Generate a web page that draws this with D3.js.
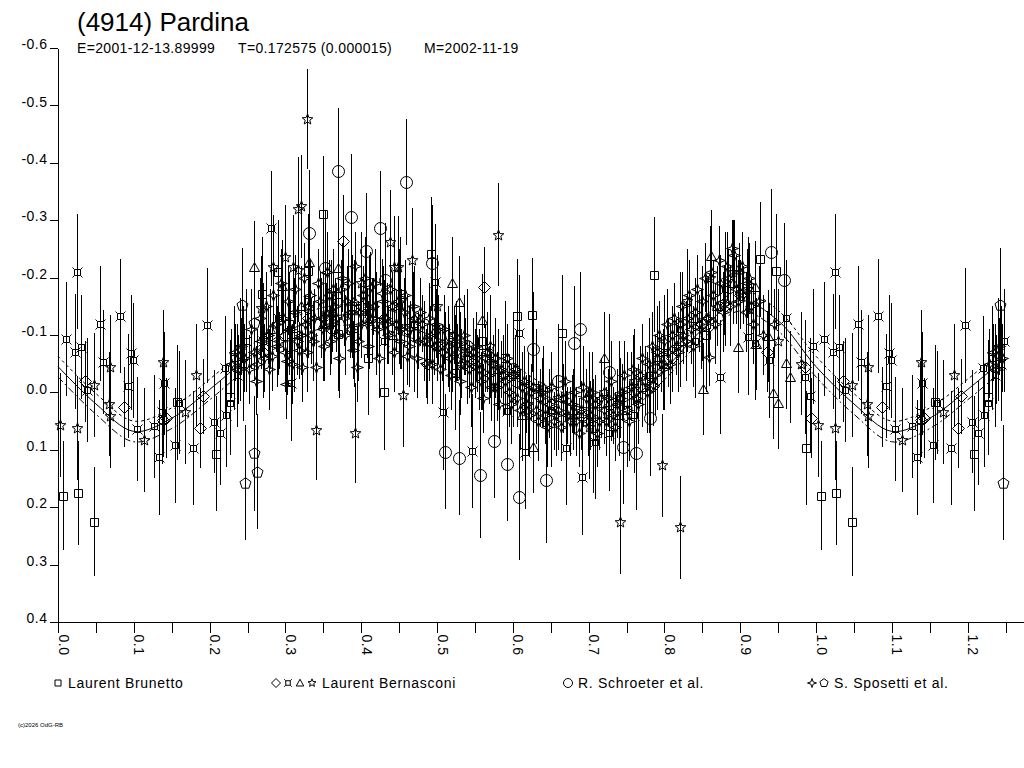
<!DOCTYPE html>
<html>
<head>
<meta charset="utf-8">
<script src="https://cdn.jsdelivr.net/npm/d3@7"></script>
<style>
  body { margin: 0; background: #fff; }
  svg { display: block; }
  text { font-family: "Liberation Sans", Arial, sans-serif; fill: #000; }
</style>
</head>
<body>
<svg id="chart" width="1024" height="768"></svg>
<script>
// [phase, reduced mag, error]
var brunetto = [[0.007,0.180,0.095],[0.026,0.175,0.09],[0.047,0.225,0.095],[0.157,0.017,0.1],[0.209,0.107,0.1],[0.227,0.008,0.1],
  [0.269,-0.171,0.1],[0.290,-0.210,0.09],[0.305,-0.120,0.09],[0.330,-0.211,0.1],[0.350,-0.311,0.1],[0.369,-0.102,0.1],[0.388,-0.150,0.09],
  [0.409,-0.060,0.1],[0.430,0.000,0.1],[0.451,-0.171,0.1],[0.492,-0.241,0.1],[0.524,-0.034,0.1],[0.560,-0.090,0.1],[0.590,-0.060,0.1],
  [0.606,-0.133,0.1],[0.625,-0.135,0.1],[0.665,-0.104,0.1],[0.706,0.076,0.1],[0.750,0.030,0.1],[0.786,-0.205,0.1],[0.855,-0.100,0.1],
  [0.926,-0.232,0.1],[0.947,-0.211,0.1],[0.987,0.097,0.1]];

var bernDiamond = [[0.036,-0.019,0.07],[0.087,0.025,0.07],[0.139,0.048,0.065],[0.143,0.045,0.07],[0.187,0.062,0.07],[0.191,0.007,0.065],
  [0.270,-0.070,0.06],[0.300,-0.100,0.065],[0.330,-0.130,0.06],[0.360,-0.110,0.06],[0.376,-0.264,0.08],[0.400,-0.150,0.06],[0.430,-0.130,0.065],
  [0.460,-0.110,0.06],[0.487,-0.050,0.07],[0.500,-0.080,0.06],[0.550,-0.050,0.06],[0.562,-0.183,0.07],[0.600,-0.030,0.065],[0.650,0.020,0.06],
  [0.690,0.040,0.06],[0.730,0.020,0.065],[0.760,0.000,0.06],[0.785,-0.011,0.07],[0.810,-0.060,0.06],[0.850,-0.120,0.065],[0.880,-0.150,0.06],
  [0.900,-0.170,0.06],[0.935,-0.071,0.07],[0.985,-0.044,0.07],[0.994,0.045,0.07]];

var bernCurrency = [[0.011,-0.093,0.1],[0.023,-0.071,0.1],[0.025,-0.210,0.1],[0.030,-0.079,0.09],[0.038,-0.004,0.09],[0.055,-0.120,0.1],
  [0.059,-0.053,0.09],[0.082,-0.133,0.1],[0.092,-0.011,0.09],[0.096,-0.069,0.1],[0.099,-0.056,0.1],[0.104,0.064,0.09],[0.127,0.059,0.09],
  [0.133,0.113,0.1],[0.137,0.035,0.09],[0.140,-0.016,0.09],[0.154,0.092,0.1],[0.159,0.018,0.09],[0.178,0.097,0.1],[0.197,-0.117,0.1],
  [0.206,0.051,0.09],[0.214,0.071,0.09],[0.220,-0.043,0.09],[0.222,0.040,0.09],[0.227,0.019,0.09],[0.232,-0.060,0.09],[0.236,-0.030,0.09],
  [0.240,-0.075,0.09],[0.244,-0.050,0.1],[0.248,-0.090,0.09],[0.270,-0.090,0.1],[0.281,-0.286,0.1],[0.290,-0.130,0.1],[0.307,-0.016,0.1],
  [0.312,-0.100,0.1],[0.330,-0.160,0.1],[0.350,-0.120,0.1],[0.370,-0.170,0.1],[0.390,-0.110,0.1],[0.410,-0.140,0.1],[0.430,-0.090,0.1],
  [0.450,-0.150,0.1],[0.470,-0.120,0.1],[0.497,-0.193,0.1],[0.508,0.035,0.1],[0.520,-0.100,0.1],[0.546,0.102,0.1],[0.560,-0.070,0.1],
  [0.592,0.032,0.1],[0.608,-0.104,0.1],[0.616,0.103,0.1],[0.630,-0.010,0.1],[0.650,0.030,0.1],[0.670,0.097,0.1],[0.691,0.148,0.1],
  [0.709,0.086,0.1],[0.727,0.071,0.1],[0.740,0.010,0.1],[0.760,0.040,0.1],[0.780,-0.030,0.1],[0.800,-0.070,0.1],[0.820,-0.110,0.1],
  [0.840,-0.090,0.1],[0.874,-0.027,0.1],[0.880,-0.180,0.1],[0.910,-0.096,0.1],[0.920,-0.086,0.1],[0.938,-0.056,0.1],[0.960,-0.130,0.1],
  [0.985,-0.027,0.1],[0.992,0.006,0.1],[0.996,-0.080,0.1]];

var bernTriangle = [[0.259,-0.218,0.08],[0.280,-0.110,0.07],[0.296,-0.185,0.08],[0.320,-0.150,0.07],[0.331,-0.228,0.08],[0.350,-0.120,0.07],
  [0.369,-0.217,0.08],[0.390,-0.160,0.07],[0.410,-0.130,0.07],[0.440,-0.100,0.07],[0.470,-0.130,0.07],[0.490,-0.090,0.07],[0.520,-0.190,0.08],
  [0.529,-0.158,0.08],[0.540,-0.070,0.07],[0.560,-0.126,0.08],[0.580,-0.040,0.07],[0.612,0.039,0.08],[0.627,0.095,0.08],[0.640,-0.010,0.07],
  [0.680,0.030,0.07],[0.700,0.000,0.07],[0.720,-0.060,0.08],[0.740,0.040,0.07],[0.770,-0.010,0.07],[0.800,-0.050,0.07],[0.820,-0.090,0.07],
  [0.840,-0.130,0.07],[0.851,-0.006,0.08],[0.862,-0.238,0.08],[0.870,-0.150,0.07],[0.890,-0.190,0.07],[0.897,-0.079,0.08],[0.920,-0.184,0.08],
  [0.921,-0.084,0.08],[0.937,-0.098,0.08],[0.943,0.001,0.08],[0.950,0.018,0.08],[0.961,-0.051,0.08],[0.966,-0.027,0.08]];

var bernStar = [[0.002,0.057,0.09],[0.025,0.062,0.09],[0.047,-0.013,0.09],[0.067,0.020,0.09],[0.068,0.041,0.09],[0.069,-0.045,0.09],
  [0.114,0.083,0.09],[0.139,-0.053,0.09],[0.168,0.034,0.09],[0.182,-0.030,0.09],[0.268,-0.147,0.09],[0.283,-0.219,0.09],[0.300,-0.236,0.09],
  [0.310,-0.219,0.09],[0.316,-0.320,0.09],[0.317,-0.213,0.09],[0.321,-0.324,0.09],[0.328,-0.476,0.087],[0.340,0.066,0.087],[0.360,-0.140,0.09],
  [0.392,0.071,0.087],[0.400,-0.190,0.09],[0.420,-0.120,0.09],[0.438,-0.262,0.09],[0.443,-0.218,0.09],[0.448,-0.218,0.09],[0.455,0.005,0.09],
  [0.467,-0.231,0.09],[0.500,-0.150,0.09],[0.530,-0.050,0.09],[0.570,-0.080,0.09],[0.580,-0.275,0.09],[0.620,0.020,0.09],[0.660,0.010,0.09],
  [0.700,0.060,0.09],[0.720,0.000,0.09],[0.741,0.226,0.09],[0.760,-0.020,0.09],[0.790,-0.060,0.09],[0.797,0.127,0.09],[0.820,0.235,0.09],
  [0.830,-0.160,0.09],[0.860,-0.200,0.09],[0.890,-0.210,0.09],[0.910,-0.180,0.09],[0.950,-0.090,0.09],[0.980,-0.050,0.09]];

var schroeter = [[0.331,-0.277,0.11],[0.352,-0.216,0.1],[0.370,-0.386,0.11],[0.387,-0.306,0.11],[0.406,-0.247,0.1],[0.425,-0.286,0.1],
  [0.431,-0.195,0.1],[0.459,-0.366,0.11],[0.470,-0.100,0.1],[0.493,-0.226,0.1],[0.511,0.103,0.1],[0.529,0.114,0.1],[0.540,-0.080,0.1],
  [0.557,0.144,0.11],[0.575,0.084,0.1],[0.592,0.124,0.1],[0.600,-0.040,0.1],[0.608,0.182,0.11],[0.627,-0.075,0.1],[0.644,0.153,0.11],
  [0.660,-0.020,0.1],[0.681,-0.086,0.1],[0.689,-0.110,0.1],[0.727,-0.036,0.1],[0.745,0.095,0.1],[0.763,0.105,0.1],[0.781,0.045,0.1],
  [0.940,-0.244,0.11],[0.958,-0.195,0.1]];

var sposettiSparkle = [[0.228,-0.050,0.06],[0.234,-0.070,0.05],[0.238,-0.040,0.06],[0.242,-0.080,0.05],[0.246,-0.060,0.06],
  [0.252,-0.040,0.06],[0.258,-0.070,0.05],[0.263,-0.050,0.06],[0.268,-0.090,0.05],[0.272,-0.060,0.06],[0.277,-0.100,0.05],[0.282,-0.063,0.06],
  [0.287,-0.120,0.05],[0.292,-0.090,0.05],[0.297,-0.130,0.06],[0.301,-0.014,0.06],[0.302,-0.055,0.06],[0.306,-0.110,0.05],[0.311,-0.140,0.05],
  [0.315,-0.090,0.06],[0.318,-0.073,0.05],[0.322,-0.044,0.06],[0.326,-0.120,0.05],[0.330,-0.150,0.06],[0.334,-0.100,0.05],[0.338,-0.130,0.05],
  [0.341,-0.044,0.06],[0.345,-0.160,0.05],[0.349,-0.110,0.06],[0.353,-0.140,0.05],[0.357,-0.170,0.06],[0.361,-0.120,0.05],[0.365,-0.150,0.05],
  [0.369,-0.100,0.06],[0.373,-0.180,0.05],[0.377,-0.130,0.05],[0.381,-0.160,0.06],[0.385,-0.110,0.05],[0.389,-0.074,0.05],[0.394,-0.044,0.06],
  [0.398,-0.140,0.05],[0.402,-0.170,0.05],[0.407,-0.120,0.06],[0.412,-0.184,0.06],[0.416,-0.150,0.05],[0.421,-0.110,0.05],[0.427,-0.173,0.06],
  [0.431,-0.130,0.05],[0.436,-0.100,0.05],[0.441,-0.150,0.06],[0.446,-0.120,0.05],[0.451,-0.090,0.05],[0.456,-0.140,0.06],[0.460,-0.063,0.05],
  [0.465,-0.110,0.05],[0.470,-0.130,0.06],[0.475,-0.090,0.05],[0.480,-0.120,0.05],[0.486,-0.051,0.06],[0.491,-0.100,0.05],[0.496,-0.080,0.05],
  [0.501,-0.110,0.06],[0.506,-0.070,0.05],[0.511,-0.090,0.05],[0.516,-0.060,0.06],[0.522,-0.100,0.05],[0.527,-0.070,0.05],[0.532,-0.050,0.06],
  [0.537,-0.080,0.05],[0.542,-0.040,0.05],[0.548,-0.070,0.06],[0.553,-0.050,0.05],[0.558,-0.020,0.05],[0.563,-0.060,0.06],[0.568,-0.030,0.05],
  [0.574,-0.050,0.05],[0.579,-0.010,0.06],[0.584,-0.040,0.05],[0.590,-0.020,0.05],[0.595,0.000,0.06],[0.600,-0.030,0.05],[0.606,0.010,0.05],
  [0.612,-0.010,0.06],[0.618,0.020,0.05],[0.624,0.000,0.05],[0.630,0.030,0.06],[0.636,0.010,0.05],[0.642,0.040,0.05],[0.648,0.020,0.06],
  [0.654,0.050,0.05],[0.660,0.030,0.05],[0.666,0.010,0.06],[0.672,0.040,0.05],[0.678,0.020,0.05],[0.684,0.050,0.06],[0.690,0.030,0.05],
  [0.696,0.010,0.05],[0.702,0.040,0.06],[0.708,0.020,0.05],[0.714,0.050,0.05],[0.720,0.030,0.06],[0.726,0.010,0.05],[0.732,0.040,0.05],
  [0.738,0.020,0.06],[0.744,0.000,0.05],[0.750,0.030,0.05],[0.756,-0.010,0.06],[0.762,0.010,0.05],[0.768,-0.030,0.05],[0.774,-0.020,0.06],
  [0.780,-0.050,0.05],[0.785,-0.013,0.05],[0.790,-0.070,0.06],[0.795,-0.050,0.05],[0.800,-0.090,0.05],[0.805,-0.070,0.06],[0.810,-0.100,0.05],
  [0.815,-0.080,0.05],[0.820,-0.120,0.06],[0.825,-0.100,0.05],[0.830,-0.130,0.05],[0.835,-0.110,0.06],[0.840,-0.140,0.05],[0.845,-0.120,0.05],
  [0.850,-0.160,0.06],[0.855,-0.130,0.05],[0.859,-0.062,0.05],[0.864,-0.170,0.06],[0.869,-0.150,0.05],[0.874,-0.190,0.05],[0.879,-0.160,0.06],
  [0.884,-0.200,0.05],[0.889,-0.251,0.05],[0.894,-0.180,0.06],[0.899,-0.210,0.05],[0.904,-0.170,0.05],[0.909,-0.190,0.06],[0.914,-0.150,0.05]];

// second Sposetti night, same symbol, wider scatter
var sposettiSparkle2 = [[0.255,-0.11,0.07],[0.261,-0.02,0.06],[0.266,-0.13,0.07],[0.274,-0.15,0.06],[0.279,-0.04,0.07],[0.284,-0.17,0.06],
  [0.289,-0.08,0.07],[0.294,-0.19,0.06],[0.299,-0.07,0.07],[0.304,-0.16,0.06],[0.309,-0.05,0.07],[0.313,-0.18,0.06],[0.320,-0.10,0.07],
  [0.324,-0.20,0.06],[0.328,-0.07,0.07],[0.332,-0.17,0.06],[0.336,-0.09,0.07],[0.343,-0.19,0.06],[0.347,-0.13,0.07],[0.351,-0.08,0.06],
  [0.355,-0.21,0.07],[0.359,-0.09,0.06],[0.363,-0.18,0.07],[0.367,-0.13,0.06],[0.371,-0.06,0.07],[0.375,-0.20,0.06],[0.379,-0.10,0.07],
  [0.383,-0.19,0.06],[0.387,-0.14,0.07],[0.392,-0.22,0.06],[0.396,-0.09,0.07],[0.400,-0.12,0.06],[0.405,-0.20,0.07],[0.409,-0.08,0.06],
  [0.414,-0.13,0.07],[0.418,-0.19,0.06],[0.424,-0.06,0.07],[0.429,-0.16,0.06],[0.434,-0.12,0.07],[0.438,-0.18,0.06],[0.443,-0.07,0.07],
  [0.448,-0.16,0.06],[0.453,-0.11,0.07],[0.458,-0.17,0.06],[0.463,-0.08,0.07],[0.468,-0.15,0.06],[0.473,-0.06,0.07],[0.478,-0.14,0.06],
  [0.483,-0.09,0.07],[0.489,-0.13,0.06],[0.494,-0.05,0.07],[0.499,-0.12,0.06],[0.504,-0.04,0.07],[0.509,-0.11,0.06],[0.514,-0.08,0.07],
  [0.519,-0.03,0.06],[0.525,-0.09,0.07],[0.530,-0.02,0.06],[0.535,-0.10,0.07],[0.540,-0.06,0.06],[0.545,-0.01,0.07],[0.551,-0.08,0.06],
  [0.556,-0.04,0.07],[0.561,0.01,0.06],[0.566,-0.07,0.07],[0.571,-0.01,0.06],[0.577,-0.06,0.07],[0.582,0.02,0.06],[0.587,-0.03,0.07],
  [0.593,-0.06,0.06],[0.598,0.02,0.07],[0.603,-0.04,0.06],[0.609,0.03,0.07],[0.615,-0.02,0.06],[0.621,0.04,0.07],[0.627,-0.01,0.06],
  [0.633,0.05,0.07],[0.639,0.00,0.06],[0.645,0.06,0.07],[0.651,-0.01,0.06],[0.657,0.04,0.07],[0.663,0.06,0.06],[0.669,-0.02,0.07],
  [0.675,0.05,0.06],[0.681,0.00,0.07],[0.687,0.07,0.06],[0.693,-0.01,0.07],[0.699,0.05,0.06],[0.705,0.00,0.07],[0.711,0.07,0.06],
  [0.717,0.01,0.07],[0.723,0.05,0.06],[0.729,-0.02,0.07],[0.735,0.06,0.06],[0.741,0.01,0.07],[0.747,-0.03,0.06],[0.753,0.05,0.07],
  [0.759,-0.04,0.06],[0.765,0.02,0.07],[0.771,-0.06,0.06],[0.777,0.00,0.07],[0.783,-0.08,0.06],[0.788,-0.03,0.07],[0.793,-0.10,0.06],
  [0.798,-0.04,0.07],[0.803,-0.12,0.06],[0.808,-0.05,0.07],[0.813,-0.13,0.06],[0.818,-0.07,0.07],[0.823,-0.15,0.06],[0.828,-0.09,0.07],
  [0.833,-0.17,0.06],[0.838,-0.08,0.07],[0.843,-0.18,0.06],[0.848,-0.11,0.07],[0.853,-0.20,0.06],[0.858,-0.13,0.07],[0.862,-0.21,0.06],
  [0.867,-0.12,0.07],[0.872,-0.23,0.06],[0.877,-0.14,0.07],[0.882,-0.22,0.06],[0.887,-0.15,0.07],[0.892,-0.24,0.06],[0.897,-0.16,0.07],
  [0.902,-0.22,0.06],[0.907,-0.14,0.07],[0.912,-0.20,0.06],[0.917,-0.12,0.07],[0.925,-0.16,0.06],[0.930,-0.10,0.07],[0.945,-0.12,0.06]];

var sposettiPentagon = [[0.243,-0.152,0.1],[0.247,0.157,0.1],[0.258,0.106,0.1],[0.259,-0.121,0.09],[0.262,0.138,0.1]];

// fitted lightcurve (one cycle) and its band
var fitPhase = [0, 0.05, 0.1, 0.15, 0.2, 0.25, 0.3, 0.35, 0.4, 0.45, 0.5, 0.55, 0.6, 0.65, 0.7, 0.75, 0.8, 0.85, 0.9, 0.95, 1.0];
var fitMag = [-0.045, 0.020, 0.068, 0.045, -0.005, -0.060, -0.105, -0.130, -0.135, -0.120, -0.095, -0.065, -0.030, 0.010, 0.027, 0.015, -0.040, -0.110, -0.160, -0.125, -0.045];
var fitBand = 0.018;

var xTickValues = [0, 0.05, 0.1, 0.15, 0.2, 0.25, 0.3, 0.35, 0.4, 0.45, 0.5, 0.55, 0.6, 0.65, 0.7, 0.75, 0.8, 0.85, 0.9, 0.95, 1.0, 1.05, 1.1, 1.15, 1.2, 1.25];
var yTickValues = [-0.6, -0.5, -0.4, -0.3, -0.2, -0.1, 0.0, 0.1, 0.2, 0.3, 0.4];

var title = "(4914) Pardina";
var subtitleParts = ["E=2001-12-13.89999", "T=0.172575 (0.000015)", "M=2002-11-19"];

var series = [
  { data: brunetto, symbol: 'square' },
  { data: bernDiamond, symbol: 'diamond' },
  { data: bernCurrency, symbol: 'currency' },
  { data: bernTriangle, symbol: 'triangle' },
  { data: bernStar, symbol: 'star' },
  { data: schroeter, symbol: 'circle' },
  { data: sposettiSparkle, symbol: 'sparkle' },
  { data: sposettiSparkle2, symbol: 'sparkle' },
  { data: sposettiPentagon, symbol: 'pentagon' }
];

var legend = [
  { x: 53, symbols: ['square'], label: 'Laurent Brunetto' },
  { x: 271, symbols: ['diamond', 'currency', 'triangle', 'star'], label: 'Laurent Bernasconi' },
  { x: 563, symbols: ['circle'], label: 'R. Schroeter et al.' },
  { x: 807, symbols: ['sparkle', 'pentagon'], label: 'S. Sposetti et al.' }
];

var svg = d3.select('#chart');

var x = d3.scaleLinear().domain([0, 1.2744]).range([58, 1024]);
var y = d3.scaleLinear().domain([-0.6, 0.4]).range([48, 622]);

var fmt1 = function (d) { return d3.format('.1f')(d).replace('\u2212', '-'); };

function symbolPath(type, k) {
  var s = k || 1, pts, i, a;
  switch (type) {
    case 'square':
      return 'M' + (-4 * s) + ',' + (-4 * s) + 'h' + (8 * s) + 'v' + (8 * s) + 'h' + (-8 * s) + 'Z';
    case 'diamond':
      return 'M0,' + (-6 * s) + 'L' + (6 * s) + ',0L0,' + (6 * s) + 'L' + (-6 * s) + ',0Z';
    case 'currency':
      return 'M' + (-3 * s) + ',' + (-3 * s) + 'h' + (6 * s) + 'v' + (6 * s) + 'h' + (-6 * s) + 'Z' +
        'M' + (-5 * s) + ',' + (-5 * s) + 'L' + (-3 * s) + ',' + (-3 * s) +
        'M' + (5 * s) + ',' + (-5 * s) + 'L' + (3 * s) + ',' + (-3 * s) +
        'M' + (-5 * s) + ',' + (5 * s) + 'L' + (-3 * s) + ',' + (3 * s) +
        'M' + (5 * s) + ',' + (5 * s) + 'L' + (3 * s) + ',' + (3 * s);
    case 'triangle':
      return 'M0,' + (-5 * s) + 'L' + (5 * s) + ',' + (4 * s) + 'H' + (-5 * s) + 'Z';
    case 'circle':
      return d3.arc()({ innerRadius: 0, outerRadius: 6 * s, startAngle: 0, endAngle: 2 * Math.PI });
    case 'sparkle':
      return 'M0,' + (-6 * s) + 'L' + (1.5 * s) + ',' + (-1.5 * s) + 'L' + (6 * s) + ',0L' + (1.5 * s) + ',' + (1.5 * s) +
        'L0,' + (6 * s) + 'L' + (-1.5 * s) + ',' + (1.5 * s) + 'L' + (-6 * s) + ',0L' + (-1.5 * s) + ',' + (-1.5 * s) + 'Z';
    case 'star':
      pts = [];
      for (i = 0; i < 10; i++) {
        a = -Math.PI / 2 + i * Math.PI / 5;
        var r = (i % 2 ? 2.4 : 5.6) * s;
        pts.push([r * Math.cos(a), r * Math.sin(a)]);
      }
      return 'M' + pts.join('L') + 'Z';
    case 'pentagon':
      pts = [];
      for (i = 0; i < 5; i++) {
        a = -Math.PI / 2 + i * 2 * Math.PI / 5;
        pts.push([5.8 * s * Math.cos(a), 5.8 * s * Math.sin(a)]);
      }
      return 'M' + pts.join('L') + 'Z';
  }
}

// points from phase 0..0.25 are shown again at 1.0..1.25
function wrapPhase(data) {
  return data.concat(data.filter(function (d) { return d[0] <= 0.25; })
    .map(function (d) { return [d[0] + 1, d[1], d[2]]; }));
}

// Title ------------------------ //
svg.append('text')
  .attr('x', 77).attr('y', 31)
  .style('font-size', '26px')
  .text(title);

svg.append('g').selectAll('text')
  .data(subtitleParts)
  .enter().append('text')
  .attr('x', function (d, i) { return [77, 238, 424][i]; })
  .attr('y', 53)
  .style('font-size', '14px')
  .style('letter-spacing', '0.35px')
  .text(function (d) { return d; });

// Axes ------------------------- //
var yAxis = d3.axisLeft(y)
  .tickValues(yTickValues)
  .tickSize(8)
  .tickSizeOuter(0)
  .tickFormat(fmt1);

var gy = svg.append('g')
  .attr('transform', 'translate(57.5,0)')
  .call(yAxis);
gy.selectAll('text')
  .attr('x', -10)
  .attr('dy', '0.05em')
  .style('font-size', '14px')
  .style('letter-spacing', '0.5px')
  .style('font-family', '"Liberation Sans", Arial, sans-serif');

var xAxis = d3.axisBottom(x)
  .tickValues(xTickValues)
  .tickSize(10)
  .tickSizeOuter(0)
  .tickFormat(function (d) {
    return Math.abs(d * 10 - Math.round(d * 10)) < 1e-6 ? fmt1(d) : '';
  });

var gx = svg.append('g')
  .attr('transform', 'translate(0,622.5)')
  .call(xAxis);
gx.select('.domain').attr('d', 'M57,0H1024');
gx.selectAll('text')
  .attr('transform', 'rotate(90)')
  .attr('x', 12)
  .attr('y', 0)
  .attr('dy', 0)
  .style('text-anchor', 'start')
  .style('font-size', '14px')
  .style('letter-spacing', '0.5px')
  .style('font-family', '"Liberation Sans", Arial, sans-serif');

svg.selectAll('.domain, .tick line')
  .attr('stroke', '#000')
  .attr('shape-rendering', 'crispEdges');

// Data points ------------------ //
var plot = svg.append('g');

series.forEach(function (s) {
  var g = plot.append('g');
  var pts = wrapPhase(s.data);

  g.selectAll('line')
    .data(pts)
    .enter().append('line')
    .attr('x1', function (d) { return Math.round(x(d[0])) + 0.5; })
    .attr('x2', function (d) { return Math.round(x(d[0])) + 0.5; })
    .attr('y1', function (d) { return y(d[1] - d[2]); })
    .attr('y2', function (d) { return y(d[1] + d[2]); })
    .attr('stroke', '#000')
    .attr('stroke-width', 1)
    .attr('shape-rendering', 'crispEdges');

  g.selectAll('path')
    .data(pts)
    .enter().append('path')
    .attr('transform', function (d) {
      return 'translate(' + (Math.round(x(d[0])) + 0.5) + ',' + (Math.round(y(d[1])) + 0.5) + ')';
    })
    .attr('d', symbolPath(s.symbol, 1))
    .attr('fill', 'none')
    .attr('stroke', '#000')
    .attr('stroke-width', 1);
});

// Fitted curve ----------------- //
var fit = fitPhase.map(function (p, i) { return [p, fitMag[i]]; });
fit = fit.concat(fit.filter(function (d) { return d[0] > 0 && d[0] <= 0.25; })
  .map(function (d) { return [d[0] + 1, d[1]]; }));

var line = d3.line()
  .x(function (d) { return x(d[0]); })
  .y(function (d) { return y(d[1]); })
  .curve(d3.curveCatmullRom);

[{ off: 0, dash: null }, { off: -fitBand, dash: '3,3' }, { off: fitBand, dash: '7,3,2,3' }].forEach(function (c) {
  svg.append('path')
    .datum(fit.map(function (d) { return [d[0], d[1] + c.off]; }))
    .attr('d', line)
    .attr('fill', 'none')
    .attr('stroke', '#000')
    .attr('stroke-width', 1)
    .attr('stroke-dasharray', c.dash);
});

// Legend ----------------------- //
var lg = svg.append('g').attr('transform', 'translate(0,683)');
legend.forEach(function (item) {
  var cx = item.x + 5;
  item.symbols.forEach(function (sym) {
    lg.append('path')
      .attr('transform', 'translate(' + cx + ',0)')
      .attr('d', symbolPath(sym, 0.75))
      .attr('fill', 'none')
      .attr('stroke', '#000')
      .attr('stroke-width', 1);
    cx += 12;
  });
  lg.append('text')
    .attr('x', cx - 2)
    .attr('y', 5)
    .style('font-size', '14px')
    .style('letter-spacing', '0.7px')
    .text(item.label);
});

svg.append('text')
  .attr('x', 18).attr('y', 727)
  .style('font-size', '6px')
  .text('(c)2026 OdG-RB');
</script>
</body>
</html>
